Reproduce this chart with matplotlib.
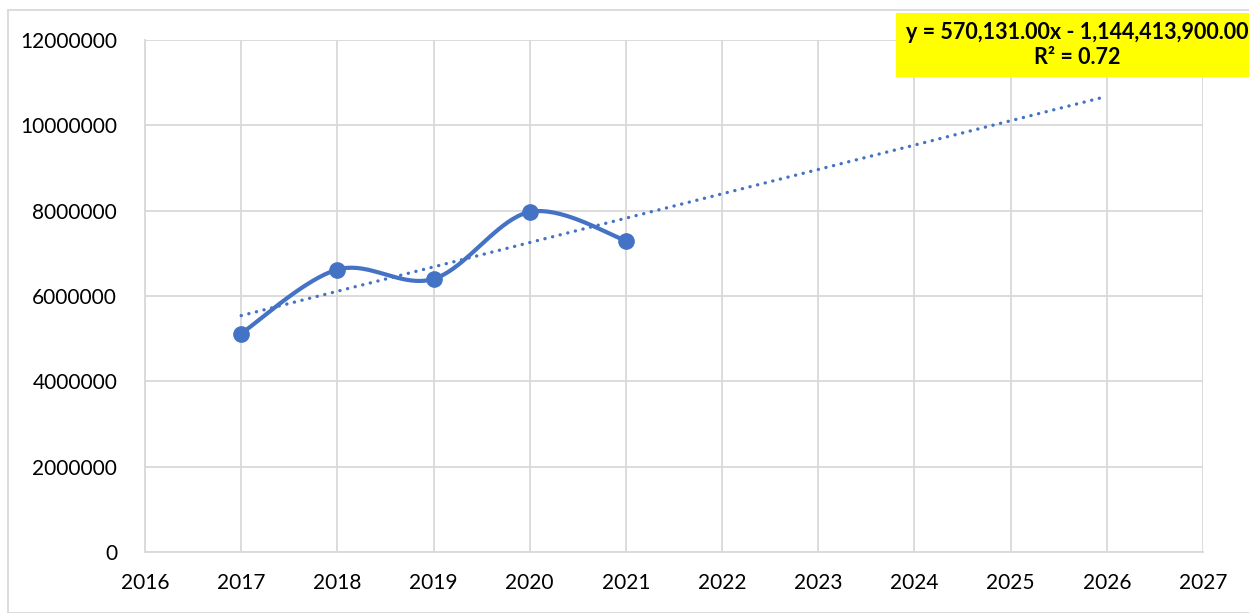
import numpy as np
import matplotlib
matplotlib.use('Agg')
import matplotlib.pyplot as plt
from matplotlib.patches import Rectangle

plt.rcParams['font.family'] = ['Lato', 'DejaVu Sans']

years = [2017, 2018, 2019, 2020, 2021]
values = [5120000, 6620000, 6400000, 7970000, 7300000]
x_ticks = list(range(2016, 2028))
y_ticks = [0, 2000000, 4000000, 6000000, 8000000, 10000000, 12000000]
trend_end = 2026
eq_text = "y = 570,131.00x - 1,144,413,900.00\nR² = 0.72"

BLUE = '#4472C4'
GRID = '#d9d9d9'


def smooth(xs, ys, n=40):
    # Excel-style smoothed line: cubic Bezier segments with Catmull-Rom control points
    xs = np.asarray(xs, float)
    ys = np.asarray(ys, float)
    px, py = [], []
    for i in range(len(xs) - 1):
        p0 = np.array([xs[max(i - 1, 0)], ys[max(i - 1, 0)]])
        p1 = np.array([xs[i], ys[i]])
        p2 = np.array([xs[i + 1], ys[i + 1]])
        p3 = np.array([xs[min(i + 2, len(xs) - 1)], ys[min(i + 2, len(xs) - 1)]])
        c1 = p1 + (p2 - p0) / 6
        c2 = p2 - (p3 - p1) / 6
        t = np.linspace(0, 1, n)[:, None]
        b = ((1 - t) ** 3) * p1 + 3 * ((1 - t) ** 2) * t * c1 + 3 * (1 - t) * t ** 2 * c2 + t ** 3 * p2
        px.extend(b[:, 0])
        py.extend(b[:, 1])
    return np.array(px), np.array(py)


fig = plt.figure(figsize=(12.49, 6.13), dpi=100)
ax = fig.add_axes([145 / 1249, 1 - 552 / 613, (1203 - 145) / 1249, (552 - 40) / 613])

# linear trend fitted from the data
coef = np.polyfit(years, values, 1)
tx = np.array([years[0], trend_end])
ax.plot(tx, np.polyval(coef, tx), color=BLUE, lw=2.4, linestyle=(0, (0.05, 2.3)),
        dash_capstyle='round', zorder=3)

sx, sy = smooth(years, values)
ax.plot(sx, sy, color=BLUE, lw=3, zorder=4)
ax.plot(years, values, 'o', color=BLUE, ms=11, zorder=5)

ax.set_xlim(x_ticks[0], x_ticks[-1])
ax.set_ylim(y_ticks[0], y_ticks[-1])
ax.set_xticks(x_ticks)
ax.set_yticks(y_ticks)
ax.set_yticklabels([str(v) for v in y_ticks])
ax.grid(True, color=GRID, lw=1.3)
ax.set_axisbelow(True)
for s in ['top', 'right']:
    ax.spines[s].set_visible(False)
for s in ['left', 'bottom']:
    ax.spines[s].set_color(GRID)
    ax.spines[s].set_linewidth(1.3)
ax.tick_params(length=0, labelsize=15, colors='black')
ax.tick_params(axis='y', pad=20)
ax.tick_params(axis='x', pad=15)

# chart-area border
fig.patches.append(Rectangle((8 / 1249, 0), 1, 1 - 10 / 613, transform=fig.transFigure,
                             fill=False, edgecolor=GRID, lw=1.3))

# equation box
fig.patches.append(Rectangle((896 / 1249, 1 - 77 / 613), (1249 - 896) / 1249, 64 / 613,
                             transform=fig.transFigure, facecolor='#FFFF00',
                             edgecolor='none', zorder=10))
fig.text(1077 / 1249, 1 - 45 / 613, eq_text, ha='center', va='center',
         fontsize=15.5, fontweight='bold', linespacing=1.25, zorder=11)

fig.savefig('out.png', dpi=100)
